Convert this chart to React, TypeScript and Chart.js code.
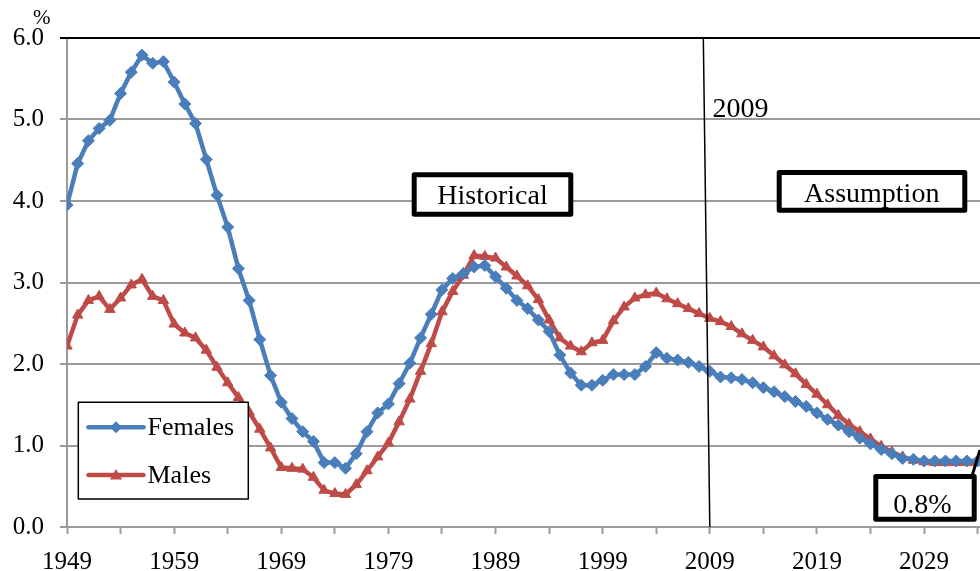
import React, { useEffect, useRef } from "react";
import { Chart, registerables } from "chart.js";

Chart.register(...registerables);

const START_YEAR = 1949;
const END_YEAR = 2034;
const years: number[] = Array.from({ length: END_YEAR - START_YEAR + 1 }, (_, i) => START_YEAR + i);

const females: number[] = [
  3.95, 4.46, 4.74, 4.89, 4.99, 5.32, 5.58, 5.79, 5.69, 5.71,
  5.46, 5.19, 4.95, 4.51, 4.07, 3.68, 3.17, 2.78, 2.30, 1.86,
  1.53, 1.33, 1.17, 1.05, 0.79, 0.79, 0.72, 0.90, 1.17, 1.40,
  1.51, 1.76, 2.01, 2.32, 2.61, 2.91, 3.05, 3.11, 3.19, 3.21,
  3.07, 2.93, 2.78, 2.68, 2.54, 2.40, 2.11, 1.89, 1.74, 1.74,
  1.80, 1.87, 1.87, 1.87, 1.97, 2.14, 2.07, 2.05, 2.02, 1.97,
  1.91, 1.84, 1.83, 1.81, 1.77, 1.71, 1.66, 1.60, 1.54, 1.48,
  1.40, 1.32, 1.25, 1.17, 1.09, 1.02, 0.95, 0.90, 0.84, 0.83,
  0.81, 0.81, 0.81, 0.81, 0.81, 0.81,
];

const males: number[] = [
  2.22, 2.60, 2.78, 2.83, 2.67, 2.81, 2.97, 3.04, 2.83, 2.78,
  2.49, 2.38, 2.32, 2.17, 1.96, 1.77, 1.59, 1.41, 1.20, 0.97,
  0.73, 0.72, 0.71, 0.61, 0.45, 0.41, 0.40, 0.52, 0.69, 0.86,
  1.03, 1.29, 1.57, 1.91, 2.25, 2.64, 2.89, 3.09, 3.33, 3.32,
  3.30, 3.19, 3.08, 2.96, 2.79, 2.54, 2.32, 2.22, 2.15, 2.26,
  2.29, 2.53, 2.70, 2.81, 2.85, 2.87, 2.80, 2.74, 2.68, 2.62,
  2.56, 2.52, 2.46, 2.37, 2.29, 2.21, 2.10, 1.99, 1.88, 1.75,
  1.63, 1.50, 1.37, 1.26, 1.17, 1.08, 0.99, 0.92, 0.86, 0.82,
  0.80, 0.79, 0.79, 0.79, 0.79, 0.79,
];

const xTickYears: number[] = [1949, 1954, 1959, 1964, 1969, 1974, 1979, 1984, 1989, 1994, 1999, 2004, 2009, 2014, 2019, 2024, 2029, 2034];
const xLabelYears: number[] = [1949, 1959, 1969, 1979, 1989, 1999, 2009, 2019, 2029];
const MARKER_YEAR = 2009;
const X_MAX = 2034.22;

const BLUE = "#4A7EBB";
const RED = "#BE4B48";
const GRID = "#9a9a9a";
const FONT = "'Liberation Serif', 'Times New Roman', serif";

const annotationPlugin = {
  id: "annotations",
  afterDatasetsDraw(chart: any) {
    const ctx = chart.ctx as CanvasRenderingContext2D;
    const ca = chart.chartArea;
    const xs = chart.scales.x;
    ctx.save();

    // top border
    ctx.strokeStyle = "#000";
    ctx.lineWidth = 2;
    ctx.beginPath();
    ctx.moveTo(60, ca.top);
    ctx.lineTo(ca.right, ca.top);
    ctx.stroke();

    // 2009 line
    const xv = xs.getPixelForValue(MARKER_YEAR);
    ctx.lineWidth = 1.5;
    ctx.beginPath();
    ctx.moveTo(xv - 6.5, ca.top - 1);
    ctx.lineTo(xv, ca.bottom);
    ctx.stroke();

    ctx.fillStyle = "#000";
    ctx.font = `28px ${FONT}`;
    ctx.textAlign = "left";
    ctx.textBaseline = "alphabetic";
    ctx.fillText("2009", 712.5, 116.5);

    const box = (x: number, y: number, w: number, h: number, text: string, tx: number, ty: number) => {
      ctx.fillStyle = "#fff";
      ctx.fillRect(x, y, w, h);
      ctx.strokeStyle = "#000";
      ctx.lineWidth = 5;
      ctx.lineJoin = "round";
      ctx.strokeRect(x, y, w, h);
      ctx.fillStyle = "#000";
      ctx.font = `28px ${FONT}`;
      ctx.textAlign = "center";
      ctx.textBaseline = "alphabetic";
      ctx.fillText(text, tx, ty);
    };
    box(414.2, 174.8, 156.6, 39.4, "Historical", 492.5, 204.3);
    box(779.2, 172.5, 185.6, 37.7, "Assumption", 871.7, 202.3);

    // leader line for 0.8%
    ctx.strokeStyle = "#000";
    ctx.lineWidth = 3;
    ctx.beginPath();
    ctx.moveTo(972, 476);
    ctx.lineTo(980, 450);
    ctx.stroke();
    box(875.8, 476.5, 98.4, 42.7, "0.8%", 922.3, 513.3);

    // legend
    ctx.fillStyle = "#fff";
    ctx.fillRect(78.3, 402.3, 170, 96.7);
    ctx.strokeStyle = "#000";
    ctx.lineWidth = 1.5;
    ctx.strokeRect(78.3, 402.3, 170, 96.7);
    const items = chart.data.datasets.map((d: any, i: number) => ({
      label: d.label,
      color: d.borderColor,
      style: d.pointStyle,
      y: i === 0 ? 427.3 : 475,
      base: i === 0 ? 435 : 483,
    }));
    items.forEach((it: any) => {
      ctx.strokeStyle = it.color;
      ctx.lineWidth = 4.5;
      ctx.lineCap = "round";
      ctx.beginPath();
      ctx.moveTo(88.5, it.y);
      ctx.lineTo(143.5, it.y);
      ctx.stroke();
      ctx.fillStyle = it.color;
      ctx.beginPath();
      if (it.style === "rectRot") {
        ctx.moveTo(116, it.y - 6);
        ctx.lineTo(122, it.y);
        ctx.lineTo(116, it.y + 6);
        ctx.lineTo(110, it.y);
      } else {
        ctx.moveTo(116, it.y - 6);
        ctx.lineTo(122, it.y + 4.5);
        ctx.lineTo(110, it.y + 4.5);
      }
      ctx.closePath();
      ctx.fill();
      ctx.fillStyle = "#000";
      ctx.font = `26px ${FONT}`;
      ctx.textAlign = "left";
      ctx.textBaseline = "alphabetic";
      ctx.fillText(it.label, 147.5, it.base);
    });

    // % unit
    ctx.fillStyle = "#000";
    ctx.font = `21px ${FONT}`;
    ctx.textAlign = "left";
    ctx.fillText("%", 33, 24);

    ctx.restore();
  },
};

export default function App() {
  const canvasRef = useRef<HTMLCanvasElement | null>(null);

  useEffect(() => {
    const canvas = canvasRef.current;
    if (!canvas) return;
    const chart = new Chart(canvas, {
      type: "line",
      data: {
        labels: years,
        datasets: [
          {
            label: "Females",
            data: years.map((yr, i) => ({ x: yr, y: females[i] })),
            borderColor: BLUE,
            backgroundColor: BLUE,
            borderWidth: 4.5,
            pointStyle: "rectRot",
            pointRadius: 6,
            pointBorderWidth: 1,
            pointBorderColor: BLUE,
            pointBackgroundColor: BLUE,
            tension: 0,
          },
          {
            label: "Males",
            data: years.map((yr, i) => ({ x: yr, y: males[i] })),
            borderColor: RED,
            backgroundColor: RED,
            borderWidth: 4.5,
            pointStyle: "triangle",
            pointRadius: 6,
            pointBorderWidth: 1,
            pointBorderColor: RED,
            pointBackgroundColor: RED,
            tension: 0,
          },
        ],
      },
      options: {
        responsive: false,
        animation: false,
        devicePixelRatio: 1,
        layout: { autoPadding: false, padding: { top: 38, left: 0, right: 0, bottom: 0 } },
        plugins: {
          legend: { display: false },
          tooltip: { enabled: false },
        },
        scales: {
          x: {
            type: "linear",
            min: START_YEAR,
            max: X_MAX,
            afterBuildTicks: (scale: any) => {
              scale.ticks = xTickYears.map((v) => ({ value: v }));
            },
            afterFit: (scale: any) => {
              scale.height = 44;
              scale.paddingRight = 0;
            },
            ticks: {
              autoSkip: false,
              maxRotation: 0,
              minRotation: 0,
              padding: 13,
              color: "#000",
              font: { family: FONT, size: 25 },
              callback: (v: any) => (xLabelYears.includes(Number(v)) ? String(v) : ""),
            },
            grid: {
              drawOnChartArea: false,
              drawTicks: true,
              tickLength: 7,
              tickColor: GRID,
              tickWidth: 2,
            },
            border: { color: GRID, width: 2 },
          },
          y: {
            min: 0,
            max: 6,
            afterFit: (scale: any) => {
              scale.width = 67;
            },
            ticks: {
              stepSize: 1,
              padding: 16,
              color: "#000",
              font: { family: FONT, size: 25 },
              callback: (v: any) => Number(v).toFixed(1),
            },
            grid: {
              color: GRID,
              lineWidth: 2,
              tickLength: 7,
              tickColor: GRID,
              tickWidth: 2,
            },
            border: { color: GRID, width: 2 },
          },
        },
      },
      plugins: [annotationPlugin],
    } as any);
    return () => chart.destroy();
  }, []);

  return (
    <div style={{ position: "absolute", left: 0, top: 0, width: 980, height: 571, background: "#fff" }}>
      <canvas ref={canvasRef} width={980} height={571} style={{ display: "block", width: 980, height: 571 }} />
    </div>
  );
}
